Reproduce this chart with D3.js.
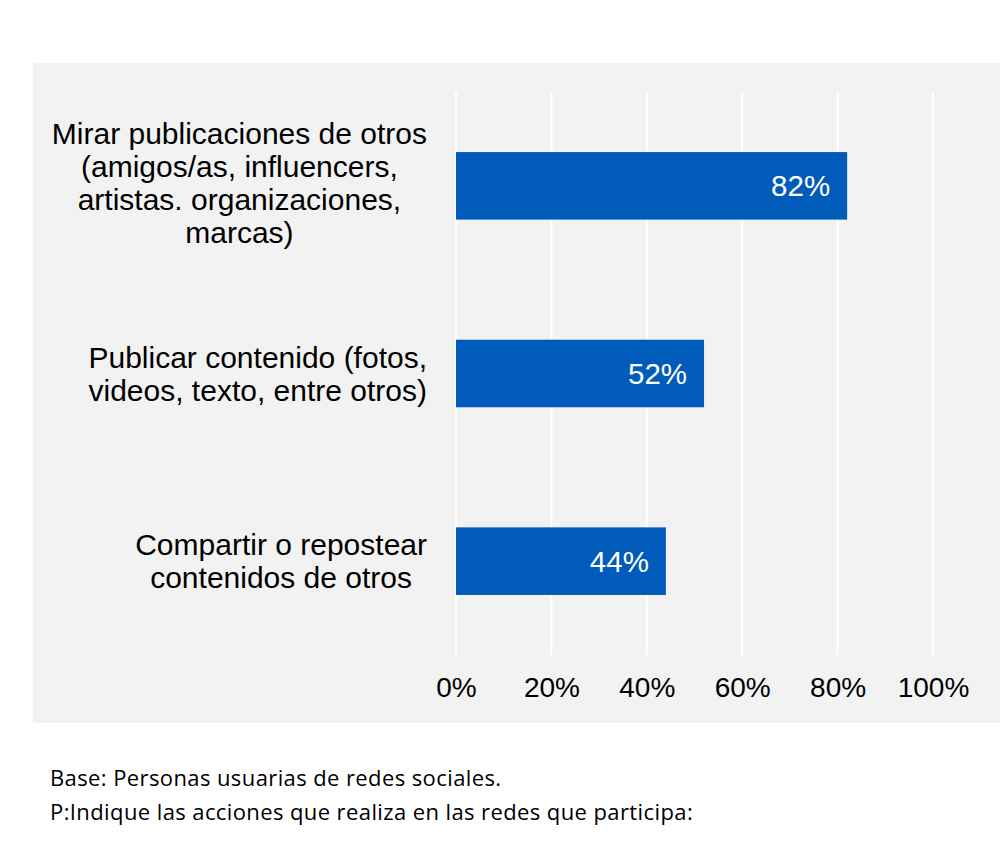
<!DOCTYPE html>
<html>
<head>
<meta charset="utf-8">
<script src="https://cdn.jsdelivr.net/npm/d3@7"></script>
<style>
  body { margin: 0; background: #fff; }
  svg { display: block; }
</style>
</head>
<body>
<div id="chart"></div>
<script>
// chart data
const categories = [
  ["Mirar publicaciones de otros", "(amigos/as, influencers,", "artistas. organizaciones,", "marcas)"],
  ["Publicar contenido (fotos,", "videos, texto, entre otros)"],
  ["Compartir o repostear", "contenidos de otros"]
];
const values = [0.82, 0.52, 0.44];
const ticks = [0, 0.2, 0.4, 0.6, 0.8, 1.0];
const notes = [
  "Base: Personas usuarias de redes sociales.",
  "P:Indique las acciones que realiza en las redes que participa:"
];

const width = 1000, height = 855;
const plot = { left: 456, right: 933, top: 92, bottom: 655 };

const svg = d3.select("#chart").append("svg")
  .attr("width", width)
  .attr("height", height);

// gray panel
svg.append("rect")
  .attr("x", 33).attr("y", 63)
  .attr("width", width - 33).attr("height", 660)
  .attr("fill", "#f2f2f2");

const x = d3.scaleLinear().domain([0, 1]).range([plot.left, plot.right]);
const y = d3.scaleBand()
  .domain(d3.range(categories.length))
  .range([plot.top, plot.bottom])
  .paddingInner(0.64)
  .paddingOuter(0.32);

// gridlines
svg.append("g")
  .selectAll("line")
  .data(ticks)
  .join("line")
  .attr("x1", d => x(d)).attr("x2", d => x(d))
  .attr("y1", plot.top).attr("y2", plot.bottom)
  .attr("stroke", "#ffffff")
  .attr("stroke-width", 2);

// x axis labels
const xAxis = svg.append("g")
  .attr("transform", `translate(0,${plot.bottom})`)
  .call(d3.axisBottom(x).tickValues(ticks).tickFormat(d3.format(".0%")).tickSize(0).tickPadding(22));
xAxis.select(".domain").remove();
xAxis.selectAll("text")
  .attr("font-family", "Liberation Sans, Arial, sans-serif")
  .attr("font-size", 28)
  .attr("fill", "#000");

// bars
svg.append("g")
  .selectAll("rect")
  .data(values)
  .join("rect")
  .attr("x", x(0))
  .attr("y", (d, i) => y(i))
  .attr("width", d => x(d) - x(0))
  .attr("height", y.bandwidth())
  .attr("fill", "#005bbb");

// value labels
svg.append("g")
  .selectAll("text")
  .data(values)
  .join("text")
  .attr("x", d => x(d) - 17)
  .attr("y", (d, i) => y(i) + y.bandwidth() / 2)
  .attr("dy", "0.36em")
  .attr("text-anchor", "end")
  .attr("font-family", "Liberation Sans, Arial, sans-serif")
  .attr("font-size", 29.5)
  .attr("fill", "#ffffff")
  .text(d => d3.format(".0%")(d));

// category labels: lines centred within a block whose right edge sits at 427
const lineH = 33;
const labelRight = 427;
categories.forEach((lines, i) => {
  const cy = y(i) + y.bandwidth() / 2 - (lines.length > 2 ? 3 : 0);
  const g = svg.append("g");
  const t = g.append("text")
    .attr("font-family", "Liberation Sans, Arial, sans-serif")
    .attr("font-size", 30)
    .attr("fill", "#000")
    .attr("text-anchor", "middle");
  const spans = t.selectAll("tspan")
    .data(lines)
    .join("tspan")
    .attr("y", (d, j) => cy + (j - (lines.length - 1) / 2) * lineH)
    .attr("dy", "0.36em")
    .text(d => d);
  let maxW = 0;
  spans.each(function() { maxW = Math.max(maxW, this.getComputedTextLength()); });
  spans.attr("x", labelRight - maxW / 2);
});

// footnotes
svg.append("g")
  .selectAll("text")
  .data(notes)
  .join("text")
  .attr("x", 50)
  .attr("y", (d, i) => 786 + i * 34)
  .attr("font-family", "Open Sans, sans-serif")
  .attr("font-size", 22)
  .attr("letter-spacing", 0.4)
  .attr("fill", "#000")
  .text(d => d);
</script>
</body>
</html>
